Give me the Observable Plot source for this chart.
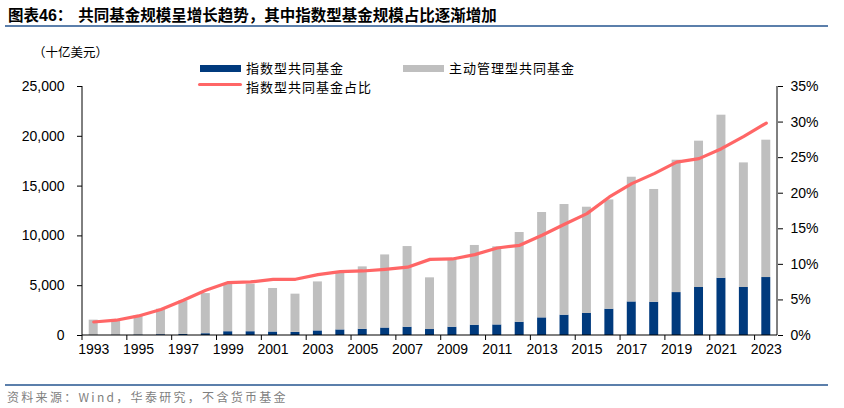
<!DOCTYPE html>
<html><head><meta charset="utf-8">
<script src="https://cdn.jsdelivr.net/npm/d3@7"></script>
<script src="https://cdn.jsdelivr.net/npm/@observablehq/plot@0.6"></script>
<style>
body{margin:0;background:#fff;}
#wrap{position:relative;width:844px;height:408px;overflow:hidden;font-family:"Noto Sans CJK SC","Noto Sans",sans-serif;color:#000;}
.abs{position:absolute;white-space:nowrap;}
.lg{font-size:13px;line-height:14px;letter-spacing:1px;}
</style></head><body>
<div id="wrap">
  <div id="chart" class="abs" style="left:0;top:40px"></div>
  <div class="abs" style="left:8px;top:4px;font-size:15.5px;font-weight:bold;line-height:20px;">图表<span style="font-family:'Liberation Sans',Arial,sans-serif;font-size:16px">46</span>：<span style="margin-left:6px">共同基金规模呈增长趋势，其中指数型基金规模占比逐渐增加</span></div>
  <div class="abs" style="left:5px;top:25px;width:823px;height:2px;background:#5b7fab"></div>
  <div class="abs" style="left:33px;top:43px;font-size:12.5px;line-height:18px">（十亿美元）</div>
  <div class="abs" style="left:200px;top:65px;width:41px;height:7px;background:#003a7d"></div>
  <div class="abs lg" style="left:246px;top:61px">指数型共同基金</div>
  <div class="abs" style="left:403px;top:65px;width:41px;height:7px;background:#bfbfbf"></div>
  <div class="abs lg" style="left:449px;top:61px">主动管理型共同基金</div>
  <div class="abs" style="left:198px;top:83px;width:44px;height:3px;background:#ff6666;border-radius:1.5px"></div>
  <div class="abs lg" style="left:246px;top:80px">指数型共同基金占比</div>
  <div class="abs" style="left:5px;top:384px;width:823px;height:2px;background:#5b7fab"></div>
  <div class="abs" style="left:7px;top:388px;font-size:12px;line-height:18px;color:#7f7f7f;letter-spacing:2.3px">资料来源：Wind，华泰研究，不含货币基金</div>
</div>
<script>
const years = [1993,1994,1995,1996,1997,1998,1999,2000,2001,2002,2003,2004,2005,2006,2007,2008,2009,2010,2011,2012,2013,2014,2015,2016,2017,2018,2019,2020,2021,2022,2023];
const indexFunds = [20,30,50,80,110,180,380,380,350,310,460,560,620,750,830,600,830,1030,1060,1330,1770,2040,2210,2640,3370,3340,4310,4820,5750,4820,5820];
const activeFunds = [1520,1530,1950,2560,3360,4030,4840,4770,4370,3840,4920,5760,6270,7340,8100,5190,6800,8010,7840,9010,10580,11110,10670,10970,12520,11320,13290,14690,16370,12510,13790];
const indexShare = [1.9,2.15,2.75,3.65,4.96,6.36,7.44,7.53,7.9,7.9,8.56,8.98,9.07,9.3,9.6,10.7,10.76,11.37,12.3,12.68,14.09,15.63,17.13,19.47,21.35,22.75,24.38,24.86,26.26,27.99,29.86];
const yTicks = [0,5000,10000,15000,20000,25000];
const pctTicks = [0,5,10,15,20,25,30,35];
const xLabels = [1993,1995,1997,1999,2001,2003,2005,2007,2009,2011,2013,2015,2017,2019,2021,2023];

const yMax = 25000, pctMax = 35, k = yMax / pctMax;
const rows = years.map((y, i) => ({year: y, idx: indexFunds[i], act: activeFunds[i], share: indexShare[i]}));

const axisLines = (index, scales, values, dim) => {
  const l = dim.marginLeft, r = dim.width - dim.marginRight, t = dim.marginTop, b = dim.height - dim.marginBottom;
  const g = d3.create("svg:g").attr("stroke", "#000").attr("stroke-width", 1).attr("fill", "none");
  g.append("line").attr("x1", l).attr("x2", l).attr("y1", t).attr("y2", b);
  g.append("line").attr("x1", r).attr("x2", r).attr("y1", t).attr("y2", b);
  g.append("line").attr("x1", l).attr("x2", r).attr("y1", b).attr("y2", b);
  const x = scales.x;
  const st = x.step ? x.step() : (r - l) / years.length;
  const bw = x.bandwidth ? x.bandwidth() : 0;
  for (const yr of xLabels) {
    const px = x(yr) - (st - bw) / 2;
    g.append("line").attr("x1", px).attr("x2", px).attr("y1", b).attr("y2", b + 5);
  }
  return g.node();
};

const chart = Plot.plot({
  width: 844, height: 330,
  marginTop: 46, marginBottom: 35, marginLeft: 82, marginRight: 67,
  x: {type: "band", domain: years, paddingInner: 0.6, paddingOuter: 0.3, align: 0.5, round: false},
  y: {domain: [0, yMax]},
  style: {fontFamily: "'Liberation Sans', Arial, sans-serif", fontSize: "14px", color: "#000", background: "transparent", overflow: "visible"},
  marks: [
    Plot.barY(rows, {x: "year", y1: 0, y2: "idx", fill: "#003a7d"}),
    Plot.barY(rows, {x: "year", y1: "idx", y2: d => d.idx + d.act, fill: "#bfbfbf"}),
    Plot.line(rows, {x: "year", y: d => d.share * k, stroke: "#ff6666", strokeWidth: 3.2, strokeLinejoin: "round", strokeLinecap: "round"}),
    Plot.axisY(yTicks, {anchor: "left", tickFormat: d3.format(","), tickSize: 5, tickPadding: 13, fontSize: 14, label: null, stroke: "#000"}),
    Plot.axisY(pctTicks.map(p => p * k), {anchor: "right", tickFormat: d => Math.round(d / k) + "%", tickSize: 5, tickPadding: 8, fontSize: 14, label: null, stroke: "#000"}),
    Plot.axisX(xLabels, {tickSize: 0, tickPadding: 9, fontSize: 14, label: null, tickFormat: d => String(d)}),
    axisLines
  ]
});
document.getElementById("chart").appendChild(chart);
</script>
</body></html>
